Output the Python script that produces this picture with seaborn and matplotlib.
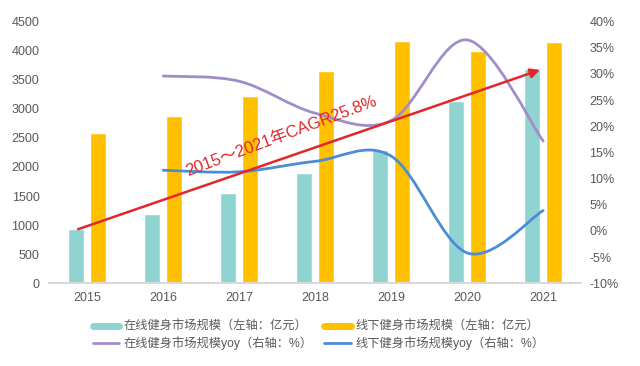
import matplotlib
matplotlib.use('Agg')
import matplotlib.pyplot as plt
import numpy as np
import pandas as pd
import seaborn as sns
from matplotlib.lines import Line2D
from matplotlib.patches import PathPatch
from matplotlib.path import Path

years = ['2015', '2016', '2017', '2018', '2019', '2020', '2021']
online_size = [930, 1200, 1550, 1900, 2300, 3140, 3680]
offline_size = [2590, 2880, 3220, 3650, 4170, 4000, 4150]
yoy_years = years[1:]
online_yoy = [29.6, 28.6, 22.5, 21.1, 36.5, 17.2]
offline_yoy = [11.6, 11.3, 13.3, 14.3, -4.2, 3.9]

series_names = ['在线健身市场规模（左轴：亿元）', '线下健身市场规模（左轴：亿元）',
                '在线健身市场规模yoy（右轴：%）', '线下健身市场规模yoy（右轴：%）']
cagr_label = '2015～2021年CAGR25.8%'

TEAL = '#8fd4d1'
YELLOW = '#ffc000'
PURPLE = '#a08dca'
BLUE = '#4a8dd6'
RED = '#e2262b'
GREY = '#595959'

sns.set_theme(style='white')
plt.rcParams['font.family'] = ['Liberation Sans', 'Noto Sans CJK SC']
plt.rcParams['axes.unicode_minus'] = False


def smooth_path(xs, ys):
    # Excel-like smoothed line: Catmull-Rom through the points as cubic Bezier segments
    pts = np.column_stack([xs, ys]).astype(float)
    padded = np.vstack([pts[0], pts, pts[-1]])
    verts = [pts[0]]
    codes = [Path.MOVETO]
    for i in range(len(pts) - 1):
        p0, p1, p2, p3 = padded[i], padded[i + 1], padded[i + 2], padded[i + 3]
        verts += [p1 + (p2 - p0) / 6, p2 - (p3 - p1) / 6, p2]
        codes += [Path.CURVE4] * 3
    return Path(verts, codes)


bars = pd.DataFrame({
    'year': years * 2,
    'series': [series_names[0]] * len(years) + [series_names[1]] * len(years),
    'value': online_size + offline_size,
})

fig = plt.figure(figsize=(6.4, 3.66), dpi=100)
ax = fig.add_axes([0.077, 0.226, 0.831, 0.715])
sns.barplot(data=bars, x='year', y='value', hue='series', palette=[TEAL, YELLOW],
            width=0.58, gap=0.28, saturation=1, legend=False, ax=ax)
ax.set_ylim(0, 4500)
ax.set_yticks(range(0, 4501, 500))
ax.set_xlim(-0.5, 6.5)
ax.set_xlabel('')
ax.set_ylabel('')
ax.tick_params(axis='x', colors=GREY, labelsize=9, pad=6, length=0)
ax.tick_params(axis='y', colors=GREY, labelsize=9, pad=7, length=0)

ax2 = ax.twinx()
ax2.set_ylim(-10, 40)
ax2.set_yticks(range(-10, 41, 5))
ax2.set_yticklabels([f'{v}%' for v in range(-10, 41, 5)])
ax2.tick_params(axis='y', colors=GREY, labelsize=9, pad=6, length=0)

x_yoy = [years.index(y) for y in yoy_years]
for vals, color in [(online_yoy, PURPLE), (offline_yoy, BLUE)]:
    ax2.add_patch(PathPatch(smooth_path(x_yoy, vals), facecolor='none',
                            edgecolor=color, lw=2.0, capstyle='round'))

for a in (ax, ax2):
    for side in ('top', 'left', 'right'):
        a.spines[side].set_visible(False)
    a.spines['bottom'].set_color('#d9d9d9')
    a.grid(False)

ax2.annotate('', xy=(5.96, online_size[-1] - 10), xytext=(-0.12, online_size[0]),
             xycoords=ax.transData, textcoords=ax.transData,
             arrowprops=dict(arrowstyle='-|>', color=RED, lw=1.8,
                             mutation_scale=14, shrinkA=0, shrinkB=0))
ax2.text(2.55, 2534, cagr_label, transform=ax.transData, color=RED, fontsize=12,
         rotation=20.5, rotation_mode='anchor', ha='center', va='center')

# legend fills column-wise, so order entries to read row by row
handles = [
    Line2D([], [], color=TEAL, lw=5),
    Line2D([], [], color=PURPLE, lw=2),
    Line2D([], [], color=YELLOW, lw=5),
    Line2D([], [], color=BLUE, lw=2),
]
labels = [series_names[0], series_names[2], series_names[1], series_names[3]]
fig.legend(handles, labels, ncol=2, loc='center left', bbox_to_anchor=(0.135, 0.083),
           frameon=False, fontsize=8.8, labelcolor=GREY, handlelength=2.2,
           handletextpad=0.3, columnspacing=1.0, labelspacing=0.3, borderpad=0)

fig.savefig('out.png', dpi=100)
plt.close(fig)
